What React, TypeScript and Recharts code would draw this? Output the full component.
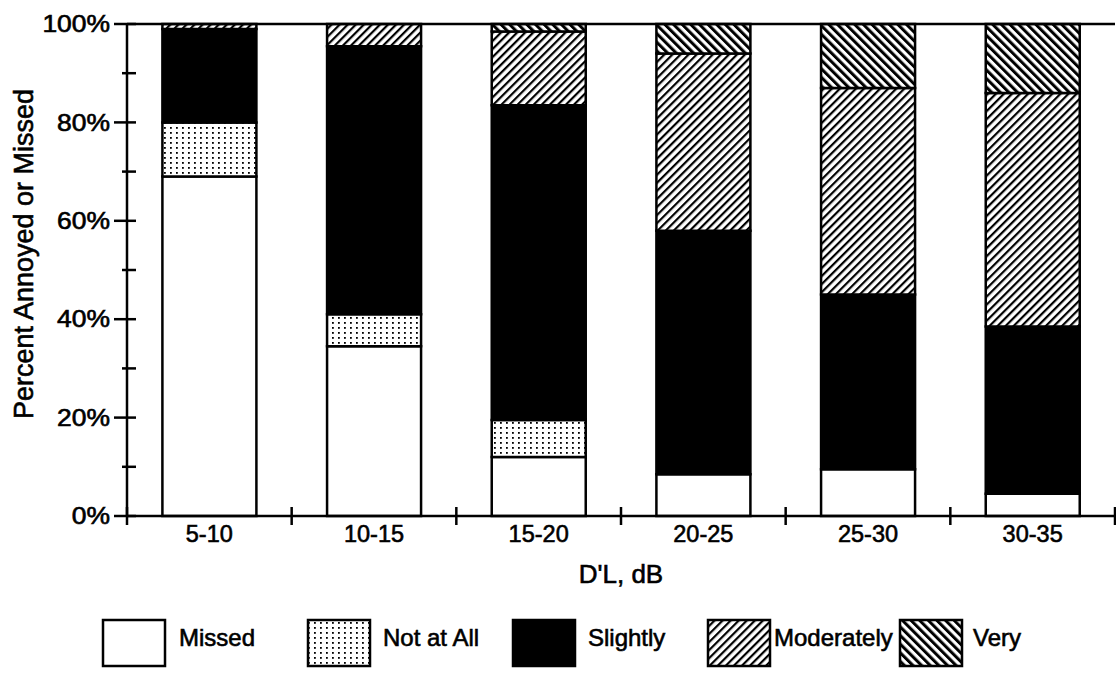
import { BarChart, Bar, XAxis, YAxis, ReferenceLine } from "recharts";

const CATEGORIES = ["5-10", "10-15", "15-20", "20-25", "25-30", "30-35"];
const MISSED = [69, 34.5, 12, 8.5, 9.5, 4.5];
const NOT_AT_ALL = [11, 6.5, 7.5, 0, 0, 0];
const SLIGHTLY = [19, 54.5, 64, 49.5, 35.5, 34];
const MODERATELY = [1, 4.5, 15, 36, 42, 47.5];
const VERY = [0, 0, 1.5, 6, 13, 14];
const Y_TICKS = [0, 10, 20, 30, 40, 50, 60, 70, 80, 90, 100];

const SERIES = [
  { key: "missed", name: "Missed", fill: "#fff" },
  { key: "notAtAll", name: "Not at All", fill: "url(#dots)" },
  { key: "slightly", name: "Slightly", fill: "#000" },
  { key: "moderately", name: "Moderately", fill: "url(#fwd)" },
  { key: "very", name: "Very", fill: "url(#back)" },
];

const data = CATEGORIES.map((c, i) => ({
  name: c,
  missed: MISSED[i],
  notAtAll: NOT_AT_ALL[i],
  slightly: SLIGHTLY[i],
  moderately: MODERATELY[i],
  very: VERY[i],
}));

const FONT = "'Liberation Sans', Arial, Helvetica, sans-serif";
const W = 1116;
const H = 675;
const LEFT = 127;
const RIGHT = 1;
const BAND = (W - LEFT - RIGHT) / CATEGORIES.length;
const INK = { fill: "#000", stroke: "#000", strokeWidth: 0.6 };

// legend layout
const LEGEND_X = [103, 308, 513, 708, 900];
const LEGEND_GAP = [14, 13, 13, 4, 11];

function YTick(props: any) {
  const { x, y, payload } = props;
  const major = payload.value % 20 === 0;
  return (
    <g>
      <line x1={x - (major ? 13 : 5)} x2={x + 9} y1={y} y2={y} stroke="#000" strokeWidth={2.5} />
      {major && (
        <text
          transform={`translate(${x - 17},${y}) scale(1.15,1)`}
          textAnchor="end"
          dy="0.36em"
          fontSize={23}
          fontFamily={FONT}
          {...INK}
        >
          {payload.value}%
        </text>
      )}
    </g>
  );
}

function XTick(props: any) {
  const { x, y, payload, index } = props;
  const last = index === CATEGORIES.length - 1;
  return (
    <g>
      <line x1={x - BAND / 2} x2={x - BAND / 2} y1={y - 9} y2={y + 9} stroke="#000" strokeWidth={2.5} />
      {last && <line x1={x + BAND / 2} x2={x + BAND / 2} y1={y - 9} y2={y + 9} stroke="#000" strokeWidth={2.5} />}
      <text x={x} y={y + 26} textAnchor="middle" fontSize={23.5} fontFamily={FONT} {...INK}>
        {payload.value}
      </text>
    </g>
  );
}

function Patterns() {
  return (
    <svg width={0} height={0} style={{ position: "absolute" }}>
      <defs>
        <pattern id="dots" patternUnits="userSpaceOnUse" width={6} height={5}>
          <rect width={6} height={5} fill="#fff" />
          <rect x={2} y={2} width={1.8} height={1.8} fill="#000" />
        </pattern>
        <pattern id="fwd" patternUnits="userSpaceOnUse" width={5.7} height={5.7} patternTransform="rotate(45)">
          <rect width={5.7} height={5.7} fill="#fff" />
          <rect x={0} y={0} width={2.2} height={5.7} fill="#000" />
        </pattern>
        <pattern id="back" patternUnits="userSpaceOnUse" width={6.1} height={6.1} patternTransform="rotate(-45)">
          <rect width={6.1} height={6.1} fill="#fff" />
          <rect x={0} y={0} width={3} height={6.1} fill="#000" />
        </pattern>
      </defs>
    </svg>
  );
}

export default function App() {
  return (
    <div
      style={{
        position: "absolute",
        left: 0,
        top: 0,
        width: W,
        height: H,
        overflow: "hidden",
        background: "#fff",
      }}
    >
      <Patterns />
      <BarChart
        width={W}
        height={H}
        data={data}
        margin={{ top: 24, right: RIGHT, left: 0, bottom: 79 }}
        barCategoryGap="21.5%"
      >
        <XAxis
          dataKey="name"
          height={80}
          axisLine={{ stroke: "#000", strokeWidth: 2.5 }}
          tickLine={false}
          tickSize={0}
          tickMargin={0}
          tick={<XTick />}
          interval={0}
          label={(p: any) => {
            const vb = p.viewBox;
            return (
              <text
                x={vb.x + vb.width / 2}
                y={vb.y + 67}
                textAnchor="middle"
                fontSize={26}
                fontFamily={FONT}
                {...INK}
              >
                D'L, dB
              </text>
            );
          }}
        />
        <YAxis
          width={LEFT}
          domain={[0, 100]}
          ticks={Y_TICKS}
          interval={0}
          axisLine={{ stroke: "#000", strokeWidth: 2.5 }}
          tickLine={false}
          tickSize={0}
          tickMargin={0}
          tick={<YTick />}
          label={() => (
            <text
              transform="translate(33,254) rotate(-90)"
              textAnchor="middle"
              fontSize={27}
              fontFamily={FONT}
              {...INK}
            >
              Percent Annoyed or Missed
            </text>
          )}
        />
        <ReferenceLine y={100} stroke="#000" strokeWidth={2.5} />
        {SERIES.map((s) => (
          <Bar
            key={s.key}
            dataKey={s.key}
            name={s.name}
            stackId="a"
            fill={s.fill}
            stroke="#000"
            strokeWidth={2.5}
            isAnimationActive={false}
          />
        ))}
      </BarChart>
      <svg width={W} height={75} style={{ position: "absolute", left: 0, top: 600 }}>
        {SERIES.map((s, i) => (
          <g key={s.key}>
            <rect x={LEGEND_X[i]} y={20} width={62} height={46} fill={s.fill} stroke="#000" strokeWidth={2.5} />
            <text
              x={LEGEND_X[i] + 62 + LEGEND_GAP[i]}
              y={46}
              fontSize={24}
              fontFamily={FONT}
              {...INK}
            >
              {s.name}
            </text>
          </g>
        ))}
      </svg>
    </div>
  );
}
